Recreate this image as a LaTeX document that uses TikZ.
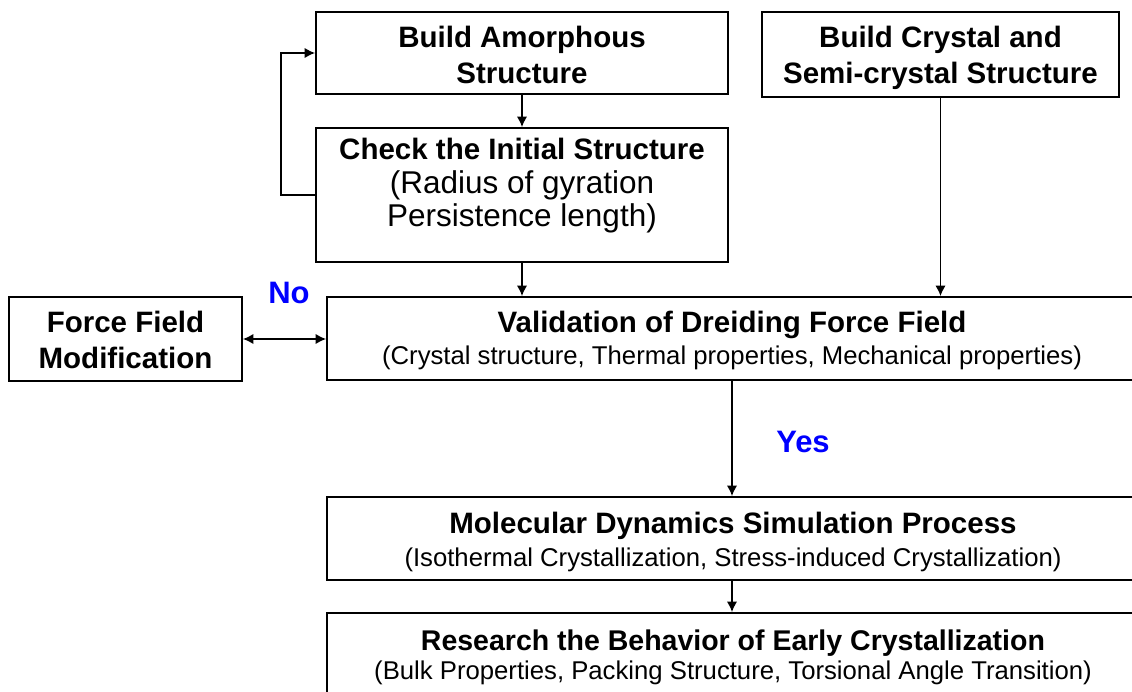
\documentclass[tikz,border=0pt]{standalone}
\usepackage{fontspec}
\setmainfont{Liberation Sans}
\usetikzlibrary{arrows.meta}
\definecolor{answerblue}{RGB}{0,0,255}

\newcommand{\titlefont}{\fontsize{29.5}{35.5}\selectfont\bfseries}
\newcommand{\notefont}{\fontsize{25.7}{32}\selectfont}

\tikzset{
  box/.style={draw=black, line width=1.8pt, inner sep=0pt},
  link/.style={line width=1.8pt, -{Latex[length=10.5pt,width=10.5pt]}},
  twolink/.style={line width=1.8pt, {Latex[length=10.5pt,width=10.5pt]}-{Latex[length=10.5pt,width=10.5pt]}},
  txt/.style={anchor=base, inner sep=0pt},
  answer/.style={anchor=base, inner sep=0pt, text=answerblue,
    font=\fontsize{31}{36}\selectfont\bfseries},
}

\begin{document}
\begin{tikzpicture}[x=1pt, y=-1pt]
\useasboundingbox (0,0) rectangle (1132,692);
\clip (0,0) rectangle (1132,692);

% boxes
\node[box, minimum width=412pt, minimum height=82pt]  (amor)  at (522,53)    {};
\node[box, minimum width=412pt, minimum height=134pt] (check) at (522,195)   {};
\node[box, minimum width=357pt, minimum height=85pt]  (crys)  at (940.5,54.5) {};
\node[box, minimum width=233pt, minimum height=84pt]  (ffm)   at (125.5,339) {};
\node[box, minimum width=810pt, minimum height=83pt]  (valid) at (732,338.5) {};
\node[box, minimum width=810pt, minimum height=83pt]  (md)    at (732,538.5) {};
\node[box, minimum width=810pt, minimum height=100pt] (res)   at (732,663)   {};

% box texts
\node[txt] (amor-t) at (522,48) {\titlefont
  \begin{tabular}[t]{@{}c@{}}Build Amorphous\\Structure\end{tabular}};
\node[txt] (crys-t) at (940.5,48) {\titlefont
  \begin{tabular}[t]{@{}c@{}}Build Crystal and\\Semi-crystal Structure\end{tabular}};
\node[txt] (check-t) at (522,160) {\fontsize{31.5}{33.5}\selectfont
  \begin{tabular}[t]{@{}c@{}}{\bfseries\fontsize{29.5}{33.5}\selectfont Check the Initial Structure}\\
  (Radius of gyration\\Persistence length)\end{tabular}};
\node[txt] (ffm-t) at (125.5,333) {\fontsize{29.5}{36}\selectfont\bfseries
  \begin{tabular}[t]{@{}c@{}}Force Field\\Modification\end{tabular}};
\node[txt] (valid-t) at (732,333) {\notefont
  \begin{tabular}[t]{@{}c@{}}{\titlefont Validation of Dreiding Force Field}\\
  (Crystal structure, Thermal properties, Mechanical properties)\end{tabular}};
\node[txt] (md-t) at (733,533) {\fontsize{25.7}{33}\selectfont
  \begin{tabular}[t]{@{}c@{}}{\titlefont Molecular Dynamics Simulation Process}\\
  (Isothermal Crystallization, Stress-induced Crystallization)\end{tabular}};
\node[txt] (res-t) at (733,650) {\fontsize{25.7}{29}\selectfont
  \begin{tabular}[t]{@{}c@{}}{\fontsize{28.5}{29}\selectfont\bfseries Research the Behavior of Early Crystallization}\\
  (Bulk Properties, Packing Structure, Torsional Angle Transition)\end{tabular}};

% decision labels
\node[answer] (no)  at (289,304) {No};
\node[answer] (yes) at (803,452) {Yes};

% connectors
\draw[link] (amor.south) -- (check.north);
\draw[link] (check.west) -- ++(-34,0) |- (amor.west);
\draw[link] (check.south) -- (check.south |- valid.north);
\draw[link] (crys.south) -- (crys.south |- valid.north);
\draw[twolink] (ffm.east) -- (ffm.east -| valid.west);
\draw[link] (valid.south) -- (md.north);
\draw[link] (md.south) -- (res.north);
\end{tikzpicture}
\end{document}
